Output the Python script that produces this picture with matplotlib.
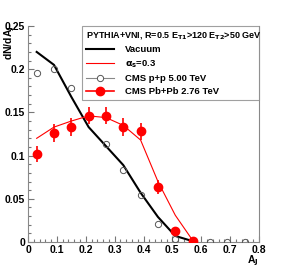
import matplotlib
matplotlib.use("Agg")
import matplotlib.pyplot as plt
from matplotlib.ticker import MultipleLocator, FixedFormatter, FixedLocator
from matplotlib.lines import Line2D

plt.rcParams["font.family"] = ["Liberation Sans", "DejaVu Sans"]
plt.rcParams["font.weight"] = "bold"
plt.rcParams["mathtext.default"] = "bf"

# theory curves (bin centres)
aj_theory = [0.03, 0.09, 0.15, 0.21, 0.27, 0.33, 0.39, 0.45, 0.51, 0.57]
vacuum = [0.220, 0.205, 0.168, 0.133, 0.111, 0.089, 0.057, 0.029, 0.007, 0.001]
alpha_03 = [0.120, 0.133, 0.140, 0.146, 0.144, 0.135, 0.118, 0.070, 0.031, 0.002]

# CMS data
aj_pp = [0.03, 0.09, 0.15, 0.21, 0.27, 0.33, 0.39, 0.45, 0.51, 0.57, 0.63, 0.69, 0.75]
cms_pp = [0.196, 0.200, 0.178, 0.145, 0.113, 0.083, 0.054, 0.021, 0.003, 0.001, 0.0, 0.0, 0.0]

aj_pbpb = [0.03, 0.09, 0.15, 0.21, 0.27, 0.33, 0.39, 0.45, 0.51, 0.57]
cms_pbpb = [0.102, 0.126, 0.133, 0.146, 0.146, 0.133, 0.128, 0.064, 0.013, 0.0015]
cms_pbpb_err = [0.009, 0.010, 0.010, 0.010, 0.010, 0.010, 0.010, 0.008, 0.003, 0.002]

leg_labels = ["Vacuum", r"$\alpha_s$=0.3", "CMS p+p 5.00 TeV", "CMS Pb+Pb 2.76 TeV"]

fig = plt.figure(figsize=(2.87, 2.69), dpi=100)
ax = fig.add_axes([0.0976, 0.1004, 0.8048, 0.8029])

h_vac, = ax.plot(aj_theory, vacuum, color="black", lw=1.5, zorder=3)
h_alp, = ax.plot(aj_theory, alpha_03, color="red", lw=0.8, zorder=3)
ax.plot(aj_pp, cms_pp, ls="none", marker="o", ms=4.5, mfc="none", mec="#555555",
        mew=0.7, zorder=4)
ax.errorbar(aj_pbpb, cms_pbpb, yerr=cms_pbpb_err, fmt="o", color="red", ms=6,
            elinewidth=1.2, capsize=0, zorder=5)
# legend proxies
h_pp = Line2D([], [], color="#888888", lw=0.8, marker="o", ms=4.5, mfc="white",
              mec="#555555", mew=0.7)
h_pb = Line2D([], [], color="red", lw=1.2, marker="o", ms=6)

ax.set_xlim(0, 0.8)
ax.set_ylim(0, 0.25)
xt = [0, 0.1, 0.2, 0.3, 0.4, 0.5, 0.6, 0.7, 0.8]
yt = [0, 0.05, 0.1, 0.15, 0.2, 0.25]
ax.xaxis.set_major_locator(FixedLocator(xt))
ax.xaxis.set_major_formatter(FixedFormatter(["0", "0.1", "0.2", "0.3", "0.4", "0.5", "0.6", "0.7", "0.8"]))
ax.yaxis.set_major_locator(FixedLocator(yt))
ax.yaxis.set_major_formatter(FixedFormatter(["0", "0.05", "0.1", "0.15", "0.2", "0.25"]))
ax.xaxis.set_minor_locator(MultipleLocator(0.02))
ax.yaxis.set_minor_locator(MultipleLocator(0.01))
ax.tick_params(which="both", direction="in", top=False, right=False, labelsize=7.5,
               width=0.8, color="#777777")
ax.tick_params(which="major", length=4.5, pad=2)
ax.tick_params(which="minor", length=2.5)
for lab in ax.get_xticklabels() + ax.get_yticklabels():
    lab.set_fontweight("bold")
ax.spines["top"].set_visible(False)
for s in ["left", "bottom", "right"]:
    ax.spines[s].set_color("#888888")
    ax.spines[s].set_linewidth(0.8)

fig.text(0.035, 0.905, r"dN/dA$_J$", rotation=90, ha="center", va="top",
         fontsize=7.5, fontweight="bold")
fig.text(0.902, 0.056, r"A$_J$", ha="right", va="top", fontsize=7.5, fontweight="bold")

leg = fig.legend([h_vac, h_alp, h_pp, h_pb], leg_labels, loc="upper left",
                 bbox_to_anchor=(0.286, 0.628, 0.617, 0.275), mode="expand",
                 title=r"PYTHIA+VNI, R=0.5 E$_{T1}$>120 E$_{T2}$>50 GeV",
                 title_fontsize=6.5, fontsize=6.8, frameon=True, fancybox=False,
                 edgecolor="#888888", borderpad=0.4, labelspacing=0.45,
                 handlelength=3.0, handletextpad=1.1, borderaxespad=0)
leg.get_frame().set_linewidth(0.8)
leg._legend_box.align = "left"
leg.get_title().set_fontweight("bold")
for t in leg.get_texts():
    t.set_fontweight("bold")

fig.savefig("out.png", dpi=100)
